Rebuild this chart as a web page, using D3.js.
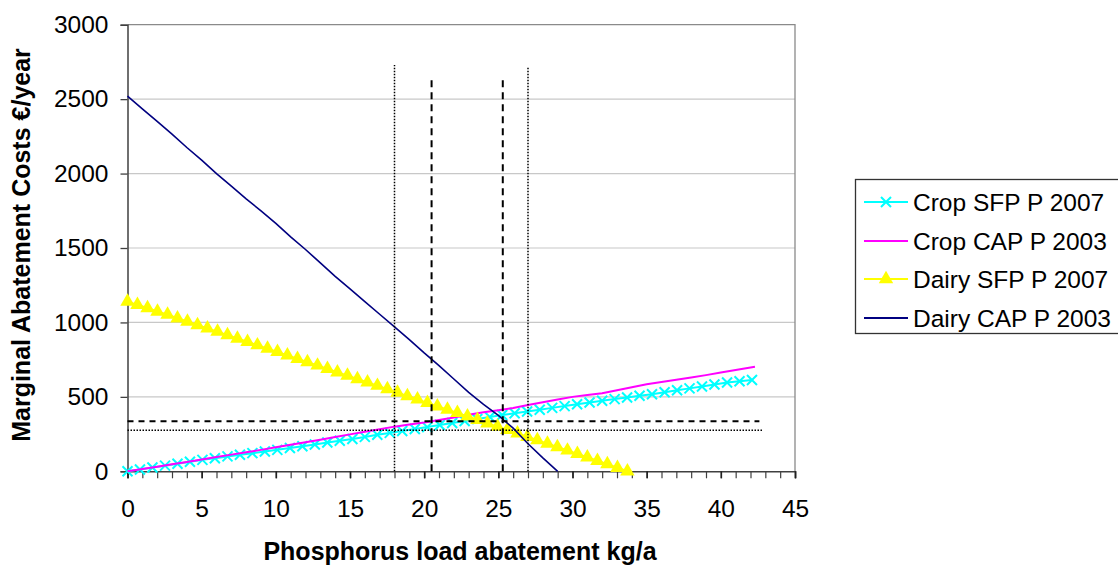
<!DOCTYPE html>
<html>
<head>
<meta charset="utf-8">
<script src="https://cdn.jsdelivr.net/npm/d3@7"></script>
<style>
  body { margin: 0; background: #fff; }
  svg { display: block; font-family: "Liberation Sans", Arial, sans-serif; }
</style>
</head>
<body>
<svg id="chart" width="1118" height="566"></svg>
<script>
// --- data ---
var seriesNames = ["Crop SFP P 2007", "Crop CAP P 2003", "Dairy SFP P 2007", "Dairy CAP P 2003"]

var cropSfpX = [0, 0.84, 1.68, 2.53, 3.37, 4.21, 5.05, 5.89, 6.74, 7.58, 8.42, 9.26, 10.10, 10.95, 11.79, 12.63, 13.47, 14.31, 15.16, 16.00, 16.84, 17.68, 18.52, 19.37, 20.21, 21.05, 21.89, 22.73, 23.58, 24.42, 25.26, 26.10, 26.94, 27.79, 28.63, 29.47, 30.31, 31.15, 32.00, 32.84, 33.68, 34.52, 35.36, 36.21, 37.05, 37.89, 38.73, 39.57, 40.42, 41.26, 42.10]
var cropSfpY = [0, 12, 25, 38, 51, 64, 77, 88, 100, 111, 122, 133, 144, 156, 168, 180, 193, 205, 217, 231, 245, 258, 271, 284, 297, 311, 325, 338, 351, 365, 378, 390, 402, 414, 426, 438, 450, 462, 474, 485, 496, 507, 518, 531, 544, 557, 570, 583, 596, 605, 613]

var cropCapX = [0, 1, 2, 3, 4, 5, 6, 7, 8, 9, 10, 11, 12, 13, 14, 15, 16, 17, 18, 19, 20, 21, 22, 23, 24, 25, 26, 27, 28, 29, 30, 31, 32, 33, 34, 35, 36, 37, 38, 39, 40, 41, 42, 42.3]
var cropCapY = [0, 15, 31, 47, 63, 80, 96, 112, 128, 144, 161, 178, 195, 212, 230, 248, 265, 282, 300, 315, 328, 345, 362, 380, 396, 410, 425, 445, 464, 482, 500, 512, 525, 545, 565, 585, 600, 615, 630, 646, 663, 680, 697, 702]

var dairySfpX = [0, 0.67, 1.35, 2.02, 2.70, 3.37, 4.04, 4.72, 5.39, 6.07, 6.74, 7.41, 8.09, 8.76, 9.44, 10.11, 10.78, 11.46, 12.13, 12.81, 13.48, 14.15, 14.83, 15.50, 16.18, 16.85, 17.52, 18.20, 18.87, 19.55, 20.22, 20.89, 21.57, 22.24, 22.92, 23.59, 24.26, 24.94, 25.61, 26.29, 26.96, 27.63, 28.31, 28.98, 29.66, 30.33, 31.00, 31.68, 32.35, 33.03, 33.70]
var dairySfpY = [1140, 1118, 1097, 1073, 1052, 1028, 1006, 983, 960, 938, 915, 892, 870, 847, 824, 802, 779, 756, 733, 711, 688, 665, 643, 620, 597, 575, 552, 528, 506, 483, 460, 437, 414, 392, 369, 346, 323, 300, 278, 255, 232, 209, 186, 163, 140, 117, 94, 71, 48, 24, 0]

var dairyCapX = [0, 1, 2, 3, 4, 5, 6, 7, 8, 9, 10, 11, 12, 13, 14, 15, 16, 17, 18, 19, 20, 21, 22, 23, 24, 25, 26, 27, 28, 29]
var dairyCapY = [2520, 2435, 2350, 2265, 2175, 2090, 2000, 1915, 1830, 1750, 1665, 1575, 1490, 1400, 1310, 1225, 1140, 1055, 970, 885, 795, 710, 620, 530, 450, 375, 290, 185, 90, 0]

// reference lines: [x or y value, start, end]
var vDotted = [[18.0, 0, 2730], [27.0, 0, 2717]]
var vDashed = [[20.5, 0, 2630], [25.3, 0, 2630]]
var hDashed = [[337, 0, 42.6]]
var hDotted = [[275, 0, 42.8]]

var xTickLabels = [0, 5, 10, 15, 20, 25, 30, 35, 40, 45]
var xMinorTicks = [0, 1, 2, 3, 4, 5, 6, 7, 8, 9, 10, 11, 12, 13, 14, 15, 16, 17, 18, 19, 20, 21, 22, 23, 24, 25, 26, 27, 28, 29, 30, 31, 32, 33, 34, 35, 36, 37, 38, 39, 40, 41, 42, 43, 44, 45]
var yTickLabels = [0, 500, 1000, 1500, 2000, 2500, 3000]

var zip = (xs, ys) => xs.map((x, i) => [x, ys[i]])

var svg = d3.select("#chart")
var x = d3.scaleLinear().domain([0, 45]).range([127.5, 795])
var y = d3.scaleLinear().domain([0, 3000]).range([471.3, 24.7])

// gridlines
svg.append("g")
  .selectAll("line")
  .data(yTickLabels.filter(v => v > 0 && v < 3000))
  .enter()
  .append("line")
  .attr("x1", x(0)).attr("x2", x(45))
  .attr("y1", d => y(d)).attr("y2", d => y(d))
  .attr("stroke", "#c8c8c8")
  .attr("stroke-width", 1.2)

// plot border top/right
svg.append("path")
  .attr("d", `M${x(0)},${y(3000)}H${x(45)}V${y(0)}`)
  .attr("fill", "none")
  .attr("stroke", "#8a8a8a")
  .attr("stroke-width", 1.3)

// y axis
var yAxis = d3.axisLeft(y).tickValues(yTickLabels).tickSize(7).tickPadding(12).tickFormat(d3.format("d"))
var yG = svg.append("g").attr("transform", `translate(${x(0)},0)`).call(yAxis)
yG.select(".domain").attr("stroke", "#404040").attr("stroke-width", 1.5)
yG.selectAll(".tick line").attr("stroke", "#404040").attr("stroke-width", 1.3)
yG.selectAll(".tick text")
  .attr("font-size", "24.5px").attr("fill", "#000")
  .attr("font-family", "Liberation Sans, Arial, sans-serif")

// x axis: minor ticks every unit, labels every 5
var xMinor = d3.axisBottom(x).tickValues(xMinorTicks).tickSize(7).tickFormat("")
var xMinG = svg.append("g").attr("transform", `translate(0,${y(0)})`).call(xMinor)
xMinG.select(".domain").attr("stroke", "#404040").attr("stroke-width", 1.5)
xMinG.selectAll(".tick line").attr("stroke", "#404040").attr("stroke-width", 1.2)

var xAxis = d3.axisBottom(x).tickValues(xTickLabels).tickSize(7).tickPadding(21)
var xG = svg.append("g").attr("transform", `translate(0,${y(0)})`).call(xAxis)
xG.select(".domain").remove()
xG.selectAll(".tick line").attr("stroke", "#202020").attr("stroke-width", 1.6)
xG.selectAll(".tick text")
  .attr("font-size", "24.5px").attr("fill", "#000")
  .attr("font-family", "Liberation Sans, Arial, sans-serif")

// axis titles
svg.append("text")
  .attr("x", 460).attr("y", 560)
  .attr("text-anchor", "middle")
  .attr("font-size", "25px").attr("font-weight", "bold")
  .text("Phosphorus load abatement kg/a")

svg.append("text")
  .attr("transform", "translate(30,245) rotate(-90)")
  .attr("text-anchor", "middle")
  .attr("font-size", "25px").attr("font-weight", "bold")
  .text("Marginal Abatement Costs €/year")

var line = d3.line().x(d => x(d[0])).y(d => y(d[1]))

var seriesG = svg.append("g")

// Crop SFP P 2007 - cyan with x markers
seriesG.append("path")
  .datum(zip(cropSfpX, cropSfpY))
  .attr("d", line)
  .attr("fill", "none").attr("stroke", "#00ffff").attr("stroke-width", 2)

seriesG.selectAll(".xmark")
  .data(zip(cropSfpX, cropSfpY))
  .enter()
  .append("path")
  .attr("class", "xmark")
  .attr("d", d => `M${x(d[0]) - 5},${y(d[1]) - 5}L${x(d[0]) + 5},${y(d[1]) + 5}M${x(d[0]) - 5},${y(d[1]) + 5}L${x(d[0]) + 5},${y(d[1]) - 5}`)
  .attr("stroke", "#00ffff").attr("stroke-width", 2)

// Crop CAP P 2003 - magenta
seriesG.append("path")
  .datum(zip(cropCapX, cropCapY))
  .attr("d", line)
  .attr("fill", "none").attr("stroke", "#ff00ff").attr("stroke-width", 2)

// Dairy SFP P 2007 - yellow with triangles
seriesG.append("path")
  .datum(zip(dairySfpX, dairySfpY))
  .attr("d", line)
  .attr("fill", "none").attr("stroke", "#ffff00").attr("stroke-width", 2)

var tri = d3.symbol().type(d3.symbolTriangle).size(90)
seriesG.selectAll(".tri")
  .data(zip(dairySfpX, dairySfpY))
  .enter()
  .append("path")
  .attr("class", "tri")
  .attr("d", tri)
  .attr("transform", d => `translate(${x(d[0])},${y(d[1])})`)
  .attr("fill", "#ffff00")

// Dairy CAP P 2003 - navy
seriesG.append("path")
  .datum(zip(dairyCapX, dairyCapY))
  .attr("d", line)
  .attr("fill", "none").attr("stroke", "#000080").attr("stroke-width", 1.6)

// reference lines
var refG = svg.append("g")
refG.selectAll(".vdot").data(vDotted).enter().append("line")
  .attr("x1", d => x(d[0])).attr("x2", d => x(d[0]))
  .attr("y1", d => y(d[1])).attr("y2", d => y(d[2]))
  .attr("stroke", "#000").attr("stroke-width", 1.5).attr("stroke-dasharray", "1.5,1.5")
refG.selectAll(".vdash").data(vDashed).enter().append("line")
  .attr("x1", d => x(d[0])).attr("x2", d => x(d[0]))
  .attr("y1", d => y(d[1])).attr("y2", d => y(d[2]))
  .attr("stroke", "#000").attr("stroke-width", 2).attr("stroke-dasharray", "7,5")
refG.selectAll(".hdash").data(hDashed).enter().append("line")
  .attr("x1", d => x(d[1])).attr("x2", d => x(d[2]))
  .attr("y1", d => y(d[0])).attr("y2", d => y(d[0]))
  .attr("stroke", "#000").attr("stroke-width", 2).attr("stroke-dasharray", "6,5")
refG.selectAll(".hdot").data(hDotted).enter().append("line")
  .attr("x1", d => x(d[1])).attr("x2", d => x(d[2]))
  .attr("y1", d => y(d[0])).attr("y2", d => y(d[0]))
  .attr("stroke", "#000").attr("stroke-width", 1.5).attr("stroke-dasharray", "1.5,1.5")

// legend
var legendColors = ["#00ffff", "#ff00ff", "#ffff00", "#000080"]
var legendMarkers = ["x", "none", "triangle", "none"]
var legendRowY = [202, 241, 279, 318]

var legend = svg.append("g")
legend.append("rect")
  .attr("x", 855.5).attr("y", 179.5).attr("width", 300).attr("height", 154)
  .attr("fill", "#fff").attr("stroke", "#333").attr("stroke-width", 1.3)

var rows = legend.selectAll(".row")
  .data(seriesNames)
  .enter()
  .append("g")
  .attr("transform", (d, i) => `translate(0,${legendRowY[i]})`)

rows.append("line")
  .attr("x1", 864).attr("x2", 908).attr("y1", 0).attr("y2", 0)
  .attr("stroke", (d, i) => legendColors[i])
  .attr("stroke-width", 2)

rows.filter((d, i) => legendMarkers[i] === "x")
  .append("path")
  .attr("d", "M881,-5L891,5M881,5L891,-5")
  .attr("stroke", "#00ffff").attr("stroke-width", 2)

rows.filter((d, i) => legendMarkers[i] === "triangle")
  .append("path")
  .attr("d", tri)
  .attr("transform", "translate(886,0)")
  .attr("fill", "#ffff00")

rows.append("text")
  .attr("x", 913).attr("y", 8.5)
  .attr("font-size", "24.5px")
  .text(d => d)
</script>
</body>
</html>
